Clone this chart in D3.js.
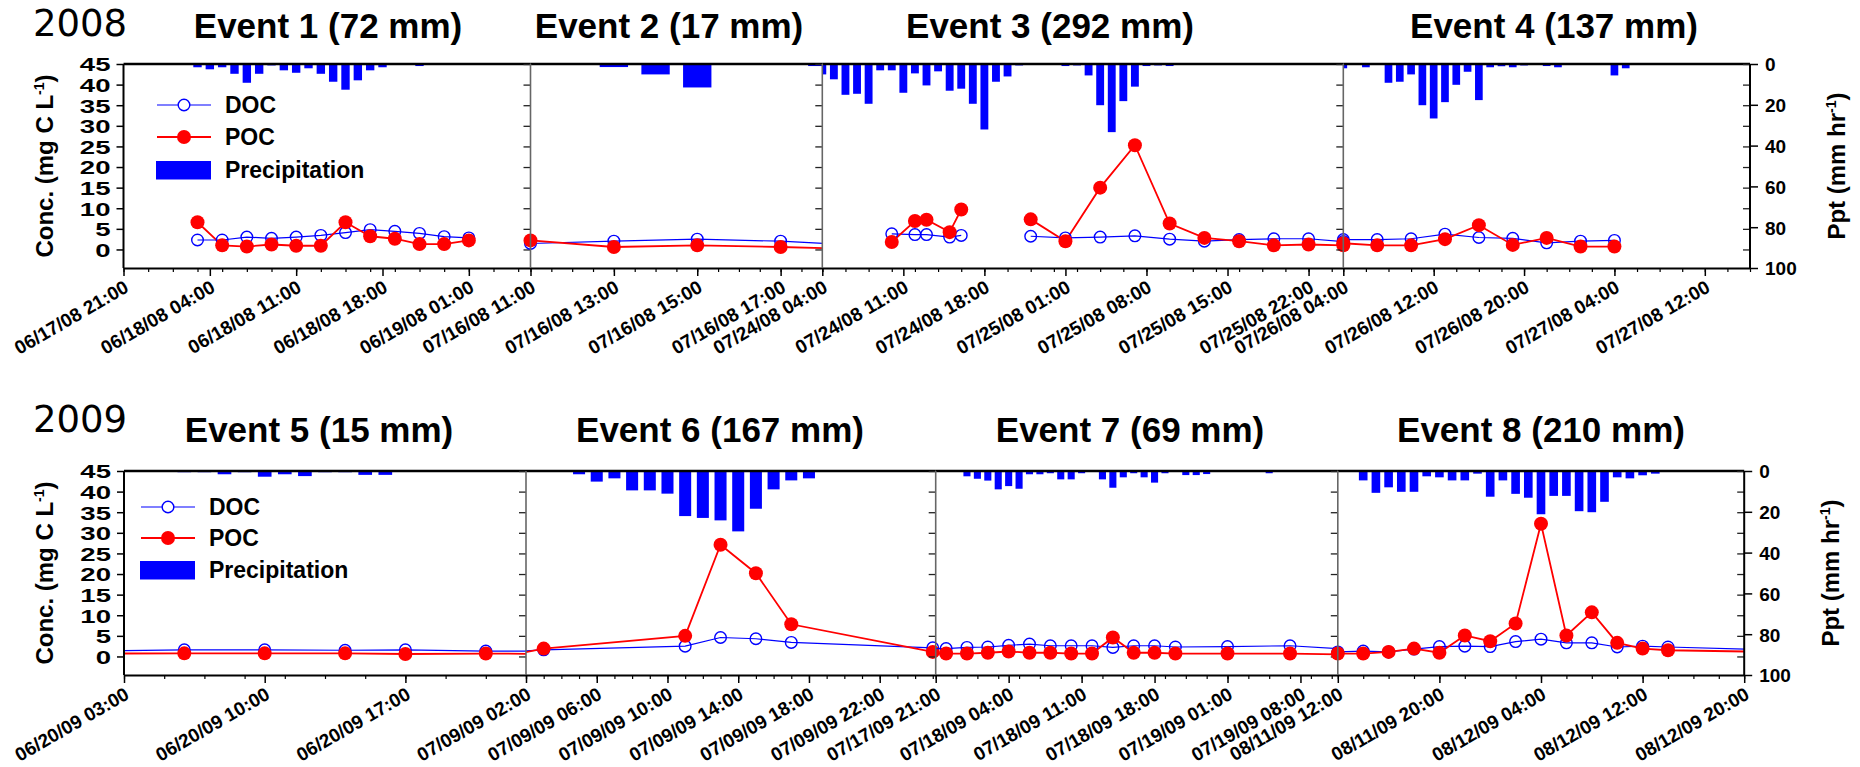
<!DOCTYPE html>
<html>
<head>
<meta charset="utf-8">
<script src="https://cdn.jsdelivr.net/npm/d3@7"></script>
<style>
  body { margin: 0; background: #fff; }
  svg { display: block; }
</style>
</head>
<body>
<script>
// ---------------- data ----------------
var eventTitles = ['Event 1 (72 mm)', 'Event 2 (17 mm)', 'Event 3 (292 mm)', 'Event 4 (137 mm)',
                   'Event 5 (15 mm)', 'Event 6 (167 mm)', 'Event 7 (69 mm)', 'Event 8 (210 mm)'];
var yearLabels = ['2008', '2009'];

// time axis of each panel
var axisStart = ['06/17/08 21:00', '07/16/08 11:00', '07/24/08 04:00', '07/26/08 04:00',
                 '06/20/09 03:00', '07/09/09 02:00', '07/17/09 21:00', '08/11/09 12:00'];
var axisEnd   = ['06/19/08 06:00', '07/16/08 18:00', '07/26/08 01:00', '07/27/08 16:00',
                 '06/20/09 23:00', '07/10/09 01:10', '07/19/09 11:35', '08/12/09 20:00'];
var tickHours  = [7, 2, 7, 8, 7, 4, 7, 8];
var minorHours = [2, 0.5, 2, 2, 2, 1, 2, 2];

var concTicks = [0, 5, 10, 15, 20, 25, 30, 35, 40, 45];
var pptTicks = [0, 20, 40, 60, 80, 100];

// samples (null = gap in the record)
var ev1Time = ['06/18/08 03:00', '06/18/08 05:00', '06/18/08 07:00', '06/18/08 09:00', '06/18/08 11:00', '06/18/08 13:00',
               '06/18/08 15:00', '06/18/08 17:00', '06/18/08 19:00', '06/18/08 21:00', '06/18/08 23:00', '06/19/08 01:00'];
var ev1Doc = [2.3, 2.3, 3.0, 2.7, 3.0, 3.4, 4.1, 4.8, 4.4, 3.9, 3.1, 2.8];
var ev1Poc = [6.6, 1.0, 0.7, 1.2, 0.9, 0.9, 6.6, 3.2, 2.6, 1.3, 1.3, 2.2];

var ev2Time = ['07/16/08 11:00', '07/16/08 13:00', '07/16/08 15:00', '07/16/08 17:00', '07/16/08 18:30'];
var ev2Doc = [1.45, 2.0, 2.5, 2.0, 1.2];
var ev2Poc = [2.2, 0.6, 1.0, 0.6, 0.2];

var ev3Time = ['07/24/08 10:00', '07/24/08 12:00', '07/24/08 13:00', '07/24/08 15:00', '07/24/08 16:00', '07/24/08 19:00',
               '07/24/08 22:00', '07/25/08 01:00', '07/25/08 04:00', '07/25/08 07:00', '07/25/08 10:00', '07/25/08 13:00',
               '07/25/08 16:00', '07/25/08 19:00', '07/25/08 22:00', '07/26/08 01:00'];
var ev3Doc = [3.8, 3.6, 3.6, 3.0, 3.4, null, 3.2, 2.8, 3.0, 3.3, 2.5, 2.0, 2.4, 2.6, 2.6, 1.9];
var ev3Poc = [1.8, 6.9, 7.2, 4.2, 9.7, null, 7.3, 2.0, 15.0, 25.3, 6.3, 2.8, 2.0, 1.0, 1.2, 1.0];

var ev4Time = ['07/26/08 04:00', '07/26/08 07:00', '07/26/08 10:00', '07/26/08 13:00', '07/26/08 16:00',
               '07/26/08 19:00', '07/26/08 22:00', '07/27/08 01:00', '07/27/08 04:00'];
var ev4Doc = [2.4, 2.4, 2.6, 3.7, 2.9, 2.7, 1.6, 2.0, 2.2];
var ev4Poc = [1.5, 1.0, 1.0, 2.5, 5.9, 1.1, 2.8, 0.7, 0.7];

var ev5Time = ['06/20/09 01:00', '06/20/09 06:00', '06/20/09 10:00', '06/20/09 14:00', '06/20/09 17:00',
               '06/20/09 21:00', '06/21/09 01:00'];
var ev5Doc = [1.3, 1.6, 1.6, 1.5, 1.6, 1.3, 1.3];
var ev5Poc = [0.7, 0.75, 0.75, 0.75, 0.6, 0.7, 0.6];

var ev6Time = ['07/09/09 01:00', '07/09/09 03:00', '07/09/09 11:00', '07/09/09 13:00', '07/09/09 15:00',
               '07/09/09 17:00', '07/10/09 01:00'];
var ev6Doc = [1.1, 1.6, 2.5, 4.6, 4.3, 3.4, 2.1];
var ev6Poc = [0.2, 1.9, 5.0, 27.1, 20.2, 7.8, 1.1];

var ev7Time = ['07/17/09 20:00', '07/17/09 22:00', '07/18/09 00:00', '07/18/09 02:00', '07/18/09 04:00', '07/18/09 06:00',
               '07/18/09 08:00', '07/18/09 10:00', '07/18/09 12:00', '07/18/09 14:00', '07/18/09 16:00', '07/18/09 18:00',
               '07/18/09 20:00', '07/19/09 01:00', '07/19/09 07:00', '07/19/09 13:00'];
var ev7Doc = [1.9, 1.9, 2.2, 2.3, 2.7, 3.0, 2.6, 2.6, 2.6, 2.2, 2.6, 2.6, 2.3, 2.4, 2.6, 1.7];
var ev7Poc = [0.8, 0.7, 0.7, 0.9, 1.2, 0.9, 0.9, 0.7, 0.7, 4.6, 0.9, 0.9, 0.7, 0.7, 0.7, 0.45];

var ev8Time = ['08/11/09 12:00', '08/11/09 14:00', '08/11/09 16:00', '08/11/09 18:00', '08/11/09 20:00', '08/11/09 22:00',
               '08/12/09 00:00', '08/12/09 02:00', '08/12/09 04:00', '08/12/09 06:00', '08/12/09 08:00', '08/12/09 10:00',
               '08/12/09 12:00', '08/12/09 14:00', '08/12/09 22:00'];
var ev8Doc = [1.1, 1.3, 1.1, 1.8, 2.4, 2.5, 2.4, 3.6, 4.2, 3.3, 3.3, 2.3, 2.5, 2.3, 1.6];
var ev8Poc = [0.7, 0.7, 1.1, 1.9, 0.9, 5.1, 3.7, 8.0, 32.2, 5.1, 10.7, 3.3, 1.9, 1.5, 1.1];

// hourly precipitation (mm/hr), one value per hour from the start time
var rain1Start = '06/18/08 03:00';
var rain1 = [1.6, 2.6, 1.6, 4.8, 9.2, 4.8, 0.7, 3.1, 4.3, 2.1, 4.8, 8.7, 12.6, 8.0, 3.1, 1.6, 0, 0, 1.0];
var rain2Start = '07/16/08 13:00';
var rain2 = [1.5, 5.1, 11.5, 0, 0, 1.0];
var rain3Start = '07/24/08 04:00';
var rain3 = [5.1, 7.5, 15.1, 14.6, 19.5, 3.1, 3.1, 14.1, 4.6, 10.5, 3.6, 13.1, 12.1, 19.5, 32.1, 8.7, 6.1, 0.7,
             0, 0, 0, 1.0, 0.7, 5.6, 20.2, 33.4, 18.2, 11.1, 1.0, 0.7, 1.0];
var rain4Start = '07/26/08 04:00';
var rain4 = [2.1, 0, 1.6, 0, 9.2, 8.7, 5.1, 20.2, 26.7, 18.7, 10.2, 3.8, 17.7, 1.6, 1.1, 1.6, 0.7, 0, 1.0, 1.6,
             0, 0, 0, 0, 5.6, 2.1];
var rain5Start = '06/20/09 06:00';
var rain5 = [0.6, 0.6, 1.6, 0.6, 2.8, 1.6, 2.5, 0.6, 0.6, 1.9, 1.9];
var rain6Start = '07/09/09 05:00';
var rain6 = [1.6, 5.2, 3.6, 9.5, 9.5, 11.1, 22.1, 23.0, 24.2, 29.6, 18.5, 9.0, 4.6, 3.6];
var rain7Start = '07/18/09 00:00';
var rain7 = [2.6, 3.8, 4.7, 9.0, 7.4, 8.7, 1.6, 1.6, 1.1, 4.1, 4.1, 1.1, 0, 4.1, 8.2, 3.1, 1.1, 3.1, 5.7, 1.1,
             0, 2.0, 2.0, 1.5, 0, 0, 0, 0, 0, 1.1];
var rain8Start = '08/11/09 14:00';
var rain8 = [4.6, 10.7, 8.0, 10.2, 10.2, 2.6, 3.1, 4.6, 4.6, 1.3, 12.6, 4.6, 11.2, 13.1, 21.2, 12.2, 12.2, 19.7,
             20.2, 15.1, 3.1, 3.6, 2.1, 1.3];

var sampleTimes = [ev1Time, ev2Time, ev3Time, ev4Time, ev5Time, ev6Time, ev7Time, ev8Time];
var docValues = [ev1Doc, ev2Doc, ev3Doc, ev4Doc, ev5Doc, ev6Doc, ev7Doc, ev8Doc];
var pocValues = [ev1Poc, ev2Poc, ev3Poc, ev4Poc, ev5Poc, ev6Poc, ev7Poc, ev8Poc];
var rainStarts = [rain1Start, rain2Start, rain3Start, rain4Start, rain5Start, rain6Start, rain7Start, rain8Start];
var rainValues = [rain1, rain2, rain3, rain4, rain5, rain6, rain7, rain8];

// ---------------- layout ----------------
var FONT = "'Liberation Sans', Arial, Helvetica, sans-serif";
var BLUE = '#0000ff', RED = '#ff0000';
var panelRow   = [0, 0, 0, 0, 1, 1, 1, 1];
var panelLeft  = [123.5, 530.5, 822.3, 1343.3, 124, 526, 935.7, 1337.8];
var panelRight = [530.5, 822.3, 1343.3, 1750, 526, 935.7, 1337.8, 1744.2];
var titleX     = [328, 669, 1050, 1554, 319, 720, 1130, 1541];
var rows = [
  {top: 64, bottom: 268, titleY: 38, yearY: 36, legendX: 157, legendY: 105, legendGap: 32},
  {top: 471, bottom: 675, titleY: 442, yearY: 432, legendX: 141, legendY: 507, legendGap: 31}
];

var parseT = d3.timeParse('%m/%d/%y %H:%M');
var fmtT = d3.timeFormat('%m/%d/%y %H:%M');

var svg = d3.select('body').append('svg')
  .attr('width', 1860)
  .attr('height', 767)
  .style('font-family', FONT);
var defs = svg.append('defs');

eventTitles.forEach(function(title, i) {
  var row = rows[panelRow[i]];
  var x0 = panelLeft[i], x1 = panelRight[i];
  var t0 = parseT(axisStart[i]), t1 = parseT(axisEnd[i]);

  var x = d3.scaleTime().domain([t0, t1]).range([x0, x1]);
  var y = d3.scaleLinear().domain([-4.5, 45]).range([row.bottom, row.top]);
  var p = d3.scaleLinear().domain([0, 100]).range([row.top, row.bottom]);

  var first = i % 4 === 0, last = i % 4 === 3;
  var g = svg.append('g').attr('class', 'panel');

  defs.append('clipPath').attr('id', 'clip' + i)
    .append('rect')
    .attr('x', x0).attr('y', row.top)
    .attr('width', x1 - x0).attr('height', row.bottom - row.top);

  // precipitation bars hang from the top
  var rs = parseT(rainStarts[i]);
  var bars = rainValues[i].map(function(v, k) { return {t: d3.timeHour.offset(rs, k), v: v}; })
    .filter(function(d) { return d.v > 0; });
  var hourPx = x(d3.timeHour.offset(t0, 1)) - x0;
  var bw = hourPx * 0.68;
  g.append('g').attr('clip-path', 'url(#clip' + i + ')')
    .selectAll('rect').data(bars).enter().append('rect')
    .attr('x', function(d) { return x(d.t) - bw / 2; })
    .attr('y', row.top)
    .attr('width', bw)
    .attr('height', function(d) { return p(d.v) - row.top; })
    .attr('fill', BLUE);

  // samples
  var samples = sampleTimes[i].map(function(s, k) {
    return {t: parseT(s), doc: docValues[i][k], poc: pocValues[i][k]};
  });
  var inside = samples.filter(function(d) { return d.t >= t0 && d.t <= t1 && d.doc != null; });

  var lines = g.append('g').attr('clip-path', 'url(#clip' + i + ')');
  lines.append('path')
    .datum(samples)
    .attr('d', d3.line().defined(function(d) { return d.doc != null; })
      .x(function(d) { return x(d.t); }).y(function(d) { return y(d.doc); }))
    .attr('fill', 'none').attr('stroke', BLUE).attr('stroke-width', 1.2);
  lines.append('path')
    .datum(samples)
    .attr('d', d3.line().defined(function(d) { return d.poc != null; })
      .x(function(d) { return x(d.t); }).y(function(d) { return y(d.poc); }))
    .attr('fill', 'none').attr('stroke', RED).attr('stroke-width', 1.8);

  g.append('g').selectAll('circle').data(inside).enter().append('circle')
    .attr('cx', function(d) { return x(d.t); })
    .attr('cy', function(d) { return y(d.doc); })
    .attr('r', 5.8)
    .attr('fill', 'none').attr('stroke', BLUE).attr('stroke-width', 1.4);
  g.append('g').selectAll('circle').data(inside).enter().append('circle')
    .attr('cx', function(d) { return x(d.t); })
    .attr('cy', function(d) { return y(d.poc); })
    .attr('r', 7)
    .attr('fill', RED);

  // frame: top line, separators
  g.append('line')
    .attr('x1', x0).attr('x2', x1).attr('y1', row.top).attr('y2', row.top)
    .attr('stroke', '#000').attr('stroke-width', 2.5);
  if (!first)
    g.append('line')
      .attr('x1', x0).attr('x2', x0).attr('y1', row.top).attr('y2', row.bottom)
      .attr('stroke', '#666').attr('stroke-width', 1.6);

  // inward ticks on the right edge of every panel
  var inner = g.append('g').attr('transform', 'translate(' + x1 + ',0)')
    .call(d3.axisRight(y).tickValues(concTicks).tickSize(-7).tickFormat(''));
  inner.select('.domain').remove();
  inner.selectAll('line').attr('stroke', '#222').attr('stroke-width', 1.3);

  // time axis
  var hours = (t1 - t0) / 3600000;
  var majors = d3.range(0, hours + 1e-6, tickHours[i]).map(function(h) { return new Date(+t0 + h * 3600000); });
  var minors = d3.range(0, hours + 1e-6, minorHours[i]).map(function(h) { return new Date(+t0 + h * 3600000); });

  var xMinor = g.append('g').attr('transform', 'translate(0,' + row.bottom + ')')
    .call(d3.axisBottom(x).tickValues(minors).tickSize(4).tickSizeOuter(0).tickFormat(''));
  xMinor.select('.domain').remove();
  xMinor.selectAll('line').attr('stroke', '#000').attr('stroke-width', 1.2);

  var xAxis = g.append('g').attr('transform', 'translate(0,' + row.bottom + ')')
    .call(d3.axisBottom(x).tickValues(majors).tickSize(8).tickSizeOuter(0).tickFormat(fmtT));
  xAxis.select('.domain').attr('stroke', '#000').attr('stroke-width', 1.8);
  xAxis.selectAll('line').attr('stroke', '#000').attr('stroke-width', 1.5);
  xAxis.selectAll('text')
    .attr('x', 0).attr('y', 0).attr('dy', 0)
    .attr('transform', 'translate(6,23) rotate(-30)')
    .attr('text-anchor', 'end')
    .attr('fill', '#000')
    .style('font-family', FONT)
    .style('font-size', '19px')
    .style('font-weight', 'bold');

  // outer left axis
  if (first) {
    var yAxis = g.append('g').attr('transform', 'translate(' + x0 + ',0)')
      .call(d3.axisLeft(y).tickValues(concTicks).tickSize(7).tickSizeOuter(0));
    yAxis.select('.domain').attr('d', 'M0,' + row.top + 'V' + row.bottom)
      .attr('stroke', '#000').attr('stroke-width', 2);
    yAxis.selectAll('line').attr('stroke', '#000').attr('stroke-width', 1.5);
    yAxis.selectAll('text')
      .attr('x', 0).attr('dy', '0.36em')
      .attr('transform', 'translate(-13,0) scale(1.45,1)')
      .attr('fill', '#000')
      .style('font-family', FONT)
      .style('font-size', '19px')
      .style('font-weight', 'bold');

    var cy = (row.top + row.bottom) / 2;
    var ct = g.append('text')
      .attr('transform', 'translate(53,' + cy + ') rotate(-90)')
      .attr('text-anchor', 'middle')
      .style('font-size', '24px').style('font-weight', 'bold');
    ct.append('tspan').text('Conc. (mg C L');
    ct.append('tspan').attr('dy', -9).style('font-size', '14px').text('-1');
    ct.append('tspan').attr('dy', 9).text(')');

    svg.append('text')
      .attr('x', 33).attr('y', row.yearY)
      .style('font-family', "'DejaVu Sans', Verdana, sans-serif")
      .style('font-size', '37px')
      .text(yearLabels[panelRow[i]]);

    // legend
    var lg = g.append('g');
    var lx = row.legendX, ly = row.legendY, gap = row.legendGap;
    lg.append('line').attr('x1', lx).attr('x2', lx + 54).attr('y1', ly).attr('y2', ly)
      .attr('stroke', BLUE).attr('stroke-width', 1.2);
    lg.append('circle').attr('cx', lx + 27).attr('cy', ly).attr('r', 5.8)
      .attr('fill', '#fff').attr('stroke', BLUE).attr('stroke-width', 1.4);
    lg.append('line').attr('x1', lx).attr('x2', lx + 54).attr('y1', ly + gap).attr('y2', ly + gap)
      .attr('stroke', RED).attr('stroke-width', 1.8);
    lg.append('circle').attr('cx', lx + 27).attr('cy', ly + gap).attr('r', 7).attr('fill', RED);
    lg.append('rect').attr('x', lx - 1).attr('y', ly + 2 * gap - 8).attr('width', 55).attr('height', 18.5)
      .attr('fill', BLUE);
    [['DOC', ly], ['POC', ly + gap], ['Precipitation', ly + 2 * gap + 1]].forEach(function(e) {
      lg.append('text').attr('x', lx + 68).attr('y', e[1]).attr('dy', '0.36em')
        .style('font-size', '23px').style('font-weight', 'bold').text(e[0]);
    });
  }

  // outer right axis (precipitation)
  if (last) {
    var pAxis = g.append('g').attr('transform', 'translate(' + x1 + ',0)')
      .call(d3.axisRight(p).tickValues(pptTicks).tickSize(8).tickSizeOuter(0).tickPadding(7));
    pAxis.select('.domain').attr('d', 'M0,' + row.top + 'V' + row.bottom)
      .attr('stroke', '#000').attr('stroke-width', 2);
    pAxis.selectAll('line').attr('stroke', '#000').attr('stroke-width', 1.5);
    pAxis.selectAll('text')
      .attr('dy', '0.36em')
      .attr('fill', '#000')
      .style('font-family', FONT)
      .style('font-size', '19px')
      .style('font-weight', 'bold');

    var py = (row.top + row.bottom) / 2;
    var pt = g.append('text')
      .attr('transform', 'translate(' + (x1 + 95) + ',' + py + ') rotate(-90)')
      .attr('text-anchor', 'middle')
      .style('font-size', '24px').style('font-weight', 'bold');
    pt.append('tspan').text('Ppt (mm hr');
    pt.append('tspan').attr('dy', -9).style('font-size', '14px').text('-1');
    pt.append('tspan').attr('dy', 9).text(')');
  }

  // panel title
  svg.append('text')
    .attr('x', titleX[i]).attr('y', row.titleY)
    .attr('text-anchor', 'middle')
    .style('font-size', '35px').style('font-weight', 'bold')
    .text(title);
});
</script>
</body>
</html>
